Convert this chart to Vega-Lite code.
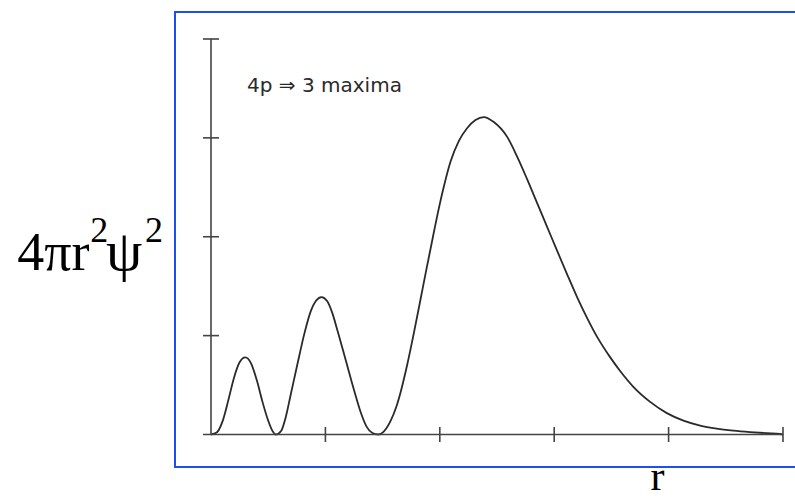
{
  "$schema": "https://vega.github.io/schema/vega-lite/v6.json",
  "width": 622,
  "height": 455,
  "autosize": {"type": "none"},
  "padding": {"left": 175, "top": 12, "right": 0, "bottom": 32},
  "background": "white",
  "config": {"view": {"stroke": "#1d4ef5", "strokeWidth": 2}},
  "datasets": {
    "curve": [
      {"r": 0, "p": 0}, {"r": 0.05, "p": 0.02}, {"r": 0.1, "p": 0.13}, {"r": 0.15, "p": 0.34},
      {"r": 0.2, "p": 0.57}, {"r": 0.25, "p": 0.73}, {"r": 0.3, "p": 0.78}, {"r": 0.35, "p": 0.72},
      {"r": 0.4, "p": 0.55}, {"r": 0.45, "p": 0.33}, {"r": 0.5, "p": 0.14}, {"r": 0.54, "p": 0.03},
      {"r": 0.567, "p": 0},
      {"r": 0.6, "p": 0.02}, {"r": 0.62, "p": 0.05}, {"r": 0.65, "p": 0.16}, {"r": 0.698, "p": 0.41},
      {"r": 0.757, "p": 0.72}, {"r": 0.814, "p": 1.01}, {"r": 0.873, "p": 1.25}, {"r": 0.916, "p": 1.35},
      {"r": 0.966, "p": 1.39}, {"r": 1.015, "p": 1.35}, {"r": 1.06, "p": 1.23}, {"r": 1.106, "p": 1.05},
      {"r": 1.178, "p": 0.75}, {"r": 1.25, "p": 0.45}, {"r": 1.31, "p": 0.22}, {"r": 1.36, "p": 0.08},
      {"r": 1.411, "p": 0.015}, {"r": 1.462, "p": 0},
      {"r": 1.51, "p": 0.03}, {"r": 1.571, "p": 0.14}, {"r": 1.62, "p": 0.28}, {"r": 1.658, "p": 0.43},
      {"r": 1.716, "p": 0.71}, {"r": 1.774, "p": 1.03}, {"r": 1.832, "p": 1.37}, {"r": 1.876, "p": 1.63},
      {"r": 1.935, "p": 1.97}, {"r": 1.992, "p": 2.29}, {"r": 2.036, "p": 2.51}, {"r": 2.094, "p": 2.76},
      {"r": 2.167, "p": 2.97}, {"r": 2.24, "p": 3.1}, {"r": 2.312, "p": 3.18}, {"r": 2.385, "p": 3.21},
      {"r": 2.472, "p": 3.16}, {"r": 2.589, "p": 3.01}, {"r": 2.676, "p": 2.81}, {"r": 2.764, "p": 2.58},
      {"r": 2.851, "p": 2.34}, {"r": 2.938, "p": 2.1}, {"r": 3.025, "p": 1.86}, {"r": 3.113, "p": 1.62},
      {"r": 3.2, "p": 1.39}, {"r": 3.287, "p": 1.18}, {"r": 3.374, "p": 0.99}, {"r": 3.49, "p": 0.78},
      {"r": 3.578, "p": 0.64}, {"r": 3.694, "p": 0.48}, {"r": 3.839, "p": 0.33}, {"r": 3.985, "p": 0.216},
      {"r": 4.13, "p": 0.14}, {"r": 4.276, "p": 0.09}, {"r": 4.421, "p": 0.06}, {"r": 4.566, "p": 0.04},
      {"r": 4.712, "p": 0.025}, {"r": 4.858, "p": 0.013}, {"r": 4.974, "p": 0.005}, {"r": 5.0, "p": 0}
    ],
    "axes": [
      {"x": -0.07, "y": 0, "x2": 5.0, "y2": 0},
      {"x": 0, "y": 0, "x2": 0, "y2": 4}
    ],
    "xticks": [{"v": 1}, {"v": 2}, {"v": 3}, {"v": 4}, {"v": 5}],
    "yticks": [{"v": 1}, {"v": 2}, {"v": 3}, {"v": 4}]
  },
  "layer": [
    {
      "data": {"name": "curve"},
      "mark": {"type": "line", "interpolate": "monotone", "stroke": "#2a2a2a", "strokeWidth": 1.8},
      "encoding": {
        "x": {
          "field": "r", "type": "quantitative",
          "scale": {"domain": [-0.3147, 5.1224], "nice": false, "zero": false},
          "axis": {
            "domain": false, "ticks": false, "labels": false, "grid": false,
            "title": "r", "titleX": 482, "titleY": 22, "titleAlign": "center",
            "titleBaseline": "alphabetic", "titleFont": "Liberation Serif",
            "titleFontSize": 42, "titleFontWeight": "normal", "titleColor": "#000000"
          }
        },
        "y": {
          "field": "p", "type": "quantitative",
          "scale": {"domain": [-0.3287, 4.273], "nice": false, "zero": false},
          "axis": null
        }
      }
    },
    {
      "data": {"name": "axes"},
      "mark": {"type": "rule", "stroke": "#444444", "strokeWidth": 1.6},
      "encoding": {
        "x": {"field": "x", "type": "quantitative"},
        "y": {"field": "y", "type": "quantitative"},
        "x2": {"field": "x2"},
        "y2": {"field": "y2"}
      }
    },
    {
      "data": {"name": "xticks"},
      "mark": {"type": "tick", "orient": "vertical", "size": 15, "thickness": 1.6, "color": "#444444", "opacity": 1},
      "encoding": {
        "x": {"field": "v", "type": "quantitative"},
        "y": {"datum": 0, "type": "quantitative"}
      }
    },
    {
      "data": {"name": "yticks"},
      "mark": {"type": "tick", "orient": "horizontal", "size": 16, "thickness": 1.6, "color": "#444444", "opacity": 1},
      "encoding": {
        "x": {"datum": 0, "type": "quantitative"},
        "y": {"field": "v", "type": "quantitative"}
      }
    },
    {
      "data": {"values": [{"label": "4p ⇒ 3 maxima"}]},
      "mark": {"type": "text", "align": "left", "baseline": "alphabetic", "font": "DejaVu Sans", "fontSize": 20, "color": "#2a2a2a"},
      "encoding": {
        "x": {"datum": 0.315, "type": "quantitative"},
        "y": {"datum": 3.463, "type": "quantitative"},
        "text": {"field": "label"}
      }
    },
    {
      "data": {"values": [{"label": "4πr"}]},
      "mark": {"type": "text", "align": "right", "baseline": "alphabetic", "font": "Liberation Serif", "fontSize": 54, "color": "#000000"},
      "encoding": {
        "x": {"datum": -1.062, "type": "quantitative"},
        "y": {"datum": 1.663, "type": "quantitative"},
        "text": {"field": "label"}
      }
    },
    {
      "data": {"values": [{"label": "ψ"}]},
      "mark": {"type": "text", "align": "left", "baseline": "alphabetic", "font": "Liberation Serif", "fontSize": 58, "color": "#000000"},
      "encoding": {
        "x": {"datum": -0.918, "type": "quantitative"},
        "y": {"datum": 1.663, "type": "quantitative"},
        "text": {"field": "label"}
      }
    },
    {
      "data": {"values": [{"label": "2", "pos": -1.056}, {"label": "2", "pos": -0.578}]},
      "mark": {"type": "text", "align": "left", "baseline": "alphabetic", "font": "Liberation Serif", "fontSize": 36, "color": "#000000"},
      "encoding": {
        "x": {"field": "pos", "type": "quantitative"},
        "y": {"datum": 1.946, "type": "quantitative"},
        "text": {"field": "label"}
      }
    }
  ]
}
